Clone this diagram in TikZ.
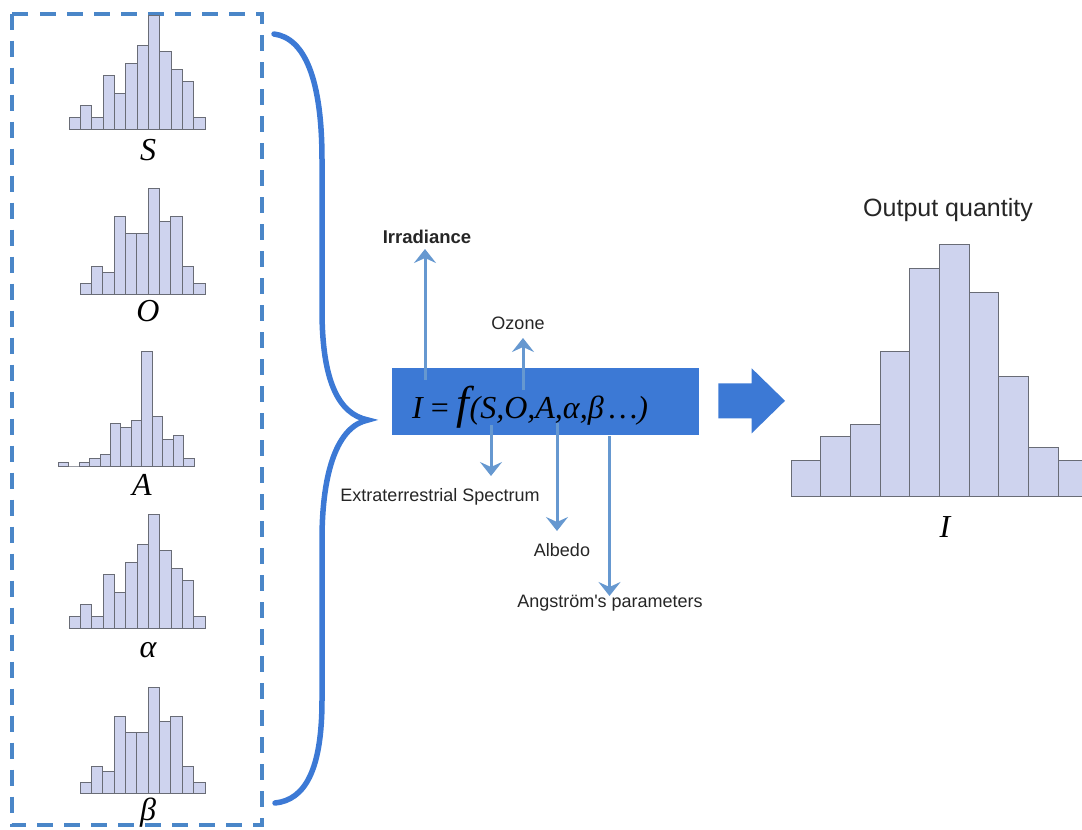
\documentclass[tikz,border=0pt]{standalone}
\usepackage{fontspec}
\setmainfont{Liberation Serif}
\newfontfamily\labfont{Liberation Sans}
\usetikzlibrary{arrows.meta}
\definecolor{boxblue}{RGB}{60,121,213}
\definecolor{arrblue}{RGB}{102,152,208}
\definecolor{dashblue}{RGB}{74,134,200}
\definecolor{histfill}{RGB}{206,211,238}
\definecolor{histline}{RGB}{105,108,118}
\tikzset{
  histbar/.style={draw=histline, fill=histfill, line width=0.9pt},
  thinarr/.style={draw=arrblue, line width=3pt, -{Stealth[width=22pt,length=14pt,inset=5pt]}},
  lab/.style={font=\labfont\fontsize{18}{18}\selectfont, inner sep=0pt, text=black!85},
  varlab/.style={font=\itshape\fontsize{32}{32}\selectfont, inner sep=0pt},
}
\newcommand\drawhist[4]{%
  \foreach \h [count=\i from 0] in {#4} {\draw[histbar] ({#1+\i*#3},#2) rectangle ({#1+(\i+1)*#3},\h);}}
\begin{document}
\begin{tikzpicture}[x=1pt,y=-1pt]
\useasboundingbox (0,0) rectangle (1082,830);
% dashed box
\draw[dashblue, line width=4pt, dash pattern=on 16pt off 11pt] (11.5,13.5) rectangle (261.5,825);
% input histograms
\drawhist{69}{129.3}{11.33}{117.3,105.3,117.3,75.3,93.3,63.3,45,15,51,69,81,117.3}
\drawhist{80}{294}{11.36}{283.3,266.7,272,216.7,233.3,233.3,188.3,221.7,216.7,266.7,283.3}
\drawhist{58.3}{466}{10.44}{462.3,466,462.3,458,454,423.7,427.7,420,351.7,416,439,435.3,458}
\drawhist{69}{628.3}{11.33}{616.7,604.3,616.7,574.3,592.3,562.3,544.3,514,550.3,568.3,580.3,616.7}
\drawhist{80}{793.3}{11.36}{782.6,766,771.3,716,732.6,732.6,687.6,721,716,766,782.6}
\node[varlab] (lS) at (148,150) {S};
\node[varlab] (lO) at (148,311) {O};
\node[varlab] (lA) at (142,485) {A};
\node[varlab] (la) at (148,650) {α};
\node[varlab] (lb) at (148,813) {β};
% brace
\draw[boxblue, line width=5.5pt, line cap=round]
  (274,34) .. controls (305,38) and (322,80) .. (322,160) -- (322,310)
  .. controls (322,380) and (338,414) .. (368,420)
  .. controls (338,426) and (322,470) .. (322,540) -- (322,700)
  .. controls (322,770) and (305,800) .. (275,803);
% function box
\node[fill=boxblue, minimum width=307pt, minimum height=67pt, inner sep=0pt] (func) at (545,401.7) {};
\node[inner sep=0pt, anchor=base west] (formula) at (412,418)
  {\itshape\fontsize{32}{32}\selectfont I {\upshape=} {\fontsize{46}{46}\selectfont f}(S,O,A,α,β\,…)};
% arrows
\coordinate (irrS) at (425,380);
\coordinate (irrE) at (425,249);
\coordinate (ozS) at (523,390);
\coordinate (ozE) at (523,338);
\coordinate (exS) at (491,425);
\coordinate (exE) at (491,476);
\coordinate (alS) at (557,423);
\coordinate (alE) at (557,531);
\coordinate (anS) at (609.5,436);
\coordinate (anE) at (609.5,596);
\draw[thinarr] (irrS) -- (irrE);
\draw[thinarr] (ozS) -- (ozE);
\draw[thinarr] (exS) -- (exE);
\draw[thinarr] (alS) -- (alE);
\draw[thinarr] (anS) -- (anE);
\node[lab, font=\labfont\bfseries\fontsize{18.5}{18.5}\selectfont] (irr) at (427,237) {Irradiance};
\node[lab] (oz) at (518,323.5) {Ozone};
\node[lab] (ex) at (440,497) {Extraterrestrial Spectrum};
\node[lab] (al) at (562,550) {Albedo};
\node[lab] (an) at (610,603) {Angström's parameters};
% block arrow
\node[inner sep=0pt] (barr) at (751,401) {};
\fill[boxblue] (718.3,383.3) -- (751.7,383.3) -- (751.7,368.3) -- (785,400.8) -- (751.7,433.3) -- (751.7,418.3) -- (718.3,418.3) -- cycle;
% output histogram
\begin{scope}
\clip (0,0) rectangle (1082,830);
\drawhist{791}{496}{29.7}{460,436,424,351.7,268,244,292,376,447.7,460}
\end{scope}
\node[lab, font=\labfont\fontsize{25}{25}\selectfont] (outq) at (948,210) {Output quantity};
\node[varlab] (lI) at (945,527) {I};
\end{tikzpicture}
\end{document}
